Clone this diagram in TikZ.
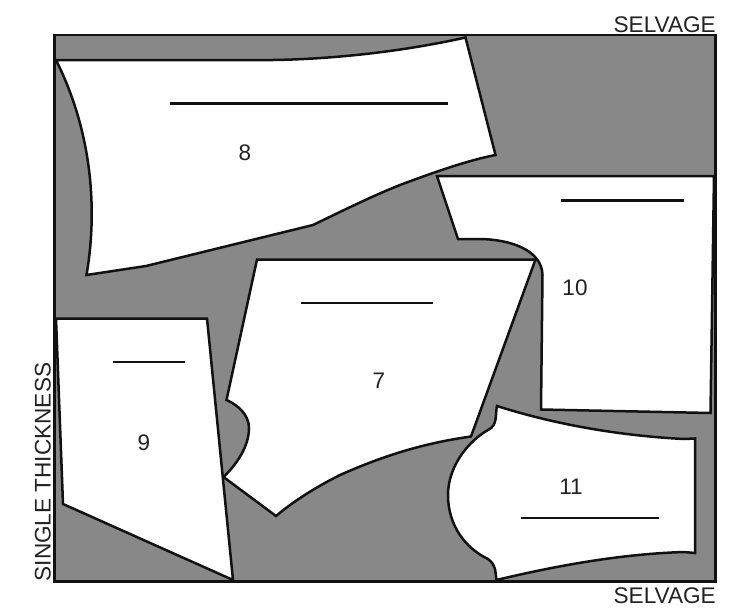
\documentclass[tikz,border=0pt]{standalone}
\usepackage{fontspec}
\setmainfont{Liberation Sans}
\definecolor{cloth}{HTML}{888888}
\definecolor{ink}{HTML}{111111}
\definecolor{txt}{HTML}{222222}
\tikzset{
  piece/.style={draw=ink,fill=white,line width=2.5pt,line join=miter,miter limit=3},
  grain/.style={draw=ink,line width=2.4pt},
  num/.style={text=txt,font=\fontsize{22.5}{22.5}\selectfont,inner sep=0pt},
  lab/.style={text=txt,font=\fontsize{22.6}{22.6}\selectfont,inner sep=0pt}
}
\begin{document}
\begin{tikzpicture}[x=1pt,y=-1pt]
\useasboundingbox (0,0) rectangle (753,608);
\draw[fill=cloth,draw=ink,line width=2.8pt] (54.5,35) rectangle (715.5,581.5);
% piece 8
\path[piece] (56,60) -- (273,60) .. controls (340,59) and (410,50) .. (465.5,37.5)
  -- (495.5,155) .. controls (470,160) and (440,170) .. (400,185)
  .. controls (370,197) and (340,212) .. (313,225) -- (146,266) -- (86.5,275)
  .. controls (96,220) and (96,140) .. (56,60) -- cycle;
% piece 10
\path[piece] (437,176) -- (714,176) -- (710.5,413) -- (541,409.5) -- (542.5,275)
  .. controls (542,250) and (510,239) .. (478,239) -- (458,239) -- cycle;
% piece 7
\path[piece] (257,259.5) -- (535.5,259.5) -- (471,436.5)
  .. controls (425,443) and (385,455) .. (340,475)
  .. controls (318,486) and (295,500) .. (276,516) -- (223.5,477)
  .. controls (236,465) and (249,447) .. (249,428) .. controls (249,415) and (238,405) .. (226.5,400) -- cycle;
% piece 9
\path[piece] (56,318.5) -- (207,318.5) -- (233,580) -- (63,504) -- cycle;
% piece 11
\path[piece] (497,406) .. controls (560,426) and (625,436) .. (684,439) -- (695,438.5)
  -- (695,553) -- (684,552) .. controls (620,554) and (555,566) .. (496.5,580)
  .. controls (495,570) and (496,565) .. (488,559)
  .. controls (465,548) and (448,525) .. (448,495)
  .. controls (448,465) and (470,440) .. (488,430)
  .. controls (498,425) and (495,415) .. (497,406) -- cycle;
% grain lines
\draw[grain] (170,103.5) -- (448,103.5);
\draw[grain] (561,200.5) -- (684,200.5);
\draw[grain] (301,303) -- (433,303);
\draw[grain] (113,362) -- (185,362);
\draw[grain] (521,518) -- (659,518);
% labels
\node[num] (n8) at (245,153) {8};
\node[num] (n10) at (575,288) {10};
\node[num] (n7) at (379,381) {7};
\node[num] (n9) at (144,443) {9};
\node[num] (n11) at (571,487) {11};
\node[lab,anchor=base east] (s1) at (716,32) {SELVAGE};
\node[lab,anchor=base east] (s2) at (716,603.5) {SELVAGE};
\node[lab,anchor=base west,rotate=90] (st) at (50.5,581.5) {SINGLE THICKNESS};
\end{tikzpicture}
\end{document}
